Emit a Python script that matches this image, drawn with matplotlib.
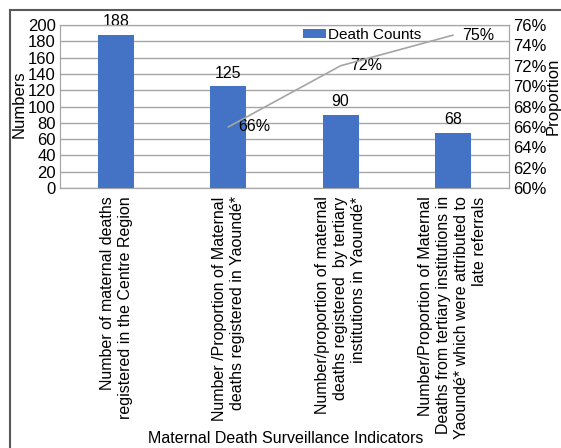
import matplotlib
matplotlib.use("Agg")
import matplotlib.pyplot as plt
from matplotlib.lines import Line2D

plt.rcParams['font.family'] = ['Liberation Sans', 'DejaVu Sans']

categories = [
    "Number of maternal deaths\nregistered in the Centre Region",
    "Number /Proportion of Maternal\ndeaths registered in Yaoundé*",
    "Number/proportion of maternal\ndeaths registered  by tertiary\ninstitutions in Yaoundé*",
    "Number/Proportion of Maternal\nDeaths from tertiary institutions in\nYaoundé* which were attributed to\nlate referrals",
]
counts = [188, 125, 90, 68]
prop_idx = [1, 2, 3]
proportions = [66, 72, 75]
left_ticks = [0, 20, 40, 60, 80, 100, 120, 140, 160, 180, 200]
right_ticks = [60, 62, 64, 66, 68, 70, 72, 74, 76]

FS = 12
FS2 = 11.5
W, H = 561, 448
fig = plt.figure(figsize=(W/100, H/100), dpi=100)
ax = fig.add_axes([60/W, 1-188/H, (509-60)/W, (188-25)/H])
ax2 = ax.twinx()

x = list(range(len(categories)))
ax.bar(x, counts, width=0.32, color='#4472C4', label='Death Counts', zorder=3)
for xi, v in zip(x, counts):
    ax.annotate(str(v), (xi, v), xytext=(0, 4), textcoords='offset points',
                ha='center', va='bottom', fontsize=FS2)

ax.set_xlim(-0.5, 3.5)
ax.set_ylim(0, 200)
ax.set_yticks(left_ticks)
ax.tick_params(axis='y', length=0, labelsize=FS, pad=3)
ax.set_xticks(x)
ax.set_xticklabels(categories, rotation=90, ha='center', va='top',
                   multialignment='right', fontsize=FS2, linespacing=1.25)
ax.tick_params(axis='x', length=0, pad=6)
ax.grid(axis='y', color='#A6A6A6', linewidth=1, zorder=0)
ax.set_axisbelow(True)
for s in ax.spines.values():
    s.set_color('#A6A6A6')
for s in ax2.spines.values():
    s.set_color('#A6A6A6')

fig.text(19/W, 1-104/H, 'Numbers', fontsize=FS, rotation=90,
         ha='center', va='center')
fig.text(553/W, 1-96/H, 'Proportion', fontsize=FS, rotation=90,
         ha='center', va='center')
fig.text(286/W, 1-438/H, 'Maternal Death Surveillance Indicators', fontsize=FS2,
         ha='center', va='center')

ax2.plot(prop_idx, proportions, color='#A5A5A5', linewidth=1.2, zorder=4)
for xi, v in zip(prop_idx, proportions):
    ax2.annotate(f"{v}%", (xi, v), xytext=(7, 0), textcoords='offset points',
                 ha='left', va='center', fontsize=FS2)
ax2.set_ylim(60, 76)
ax2.set_yticks(right_ticks)
ax2.set_yticklabels([f"{t}%" for t in right_ticks])
ax2.tick_params(axis='y', length=0, labelsize=FS, pad=3)

ax.legend(loc='upper left', bbox_to_anchor=(237/449, 1.02), frameon=False,
          fontsize=11, handlelength=1.5, handleheight=0.45,
          handletextpad=0.15, borderaxespad=0)

fig.add_artist(Line2D([10/W, 10/W], [0, 1-10/H], color='#595959', linewidth=1.5, transform=fig.transFigure))
fig.add_artist(Line2D([10/W, 1], [1-10/H, 1-10/H], color='#595959', linewidth=1.5, transform=fig.transFigure))

fig.savefig('out.png', dpi=100)
